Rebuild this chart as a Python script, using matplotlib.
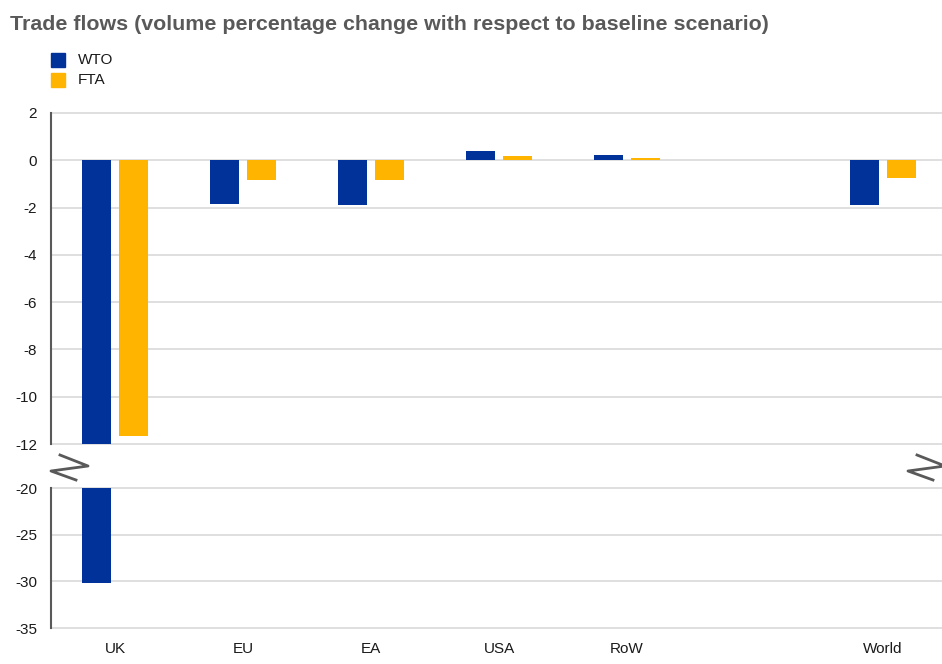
import numpy as np
import matplotlib.pyplot as plt
from matplotlib.lines import Line2D
from matplotlib.patches import Rectangle

plt.rcParams['font.family'] = ['Liberation Sans', 'DejaVu Sans']
plt.rcParams['axes.unicode_minus'] = False

# data
categories = ["UK", "EU", "EA", "USA", "RoW", "World"]
positions = [0, 1, 2, 3, 4, 6]
wto = [-30.2, -1.83, -1.9, 0.4, 0.22, -1.9]
fta = [-11.65, -0.82, -0.85, 0.17, 0.08, -0.75]
top_ticks = [2, 0, -2, -4, -6, -8, -10, -12]
bottom_ticks = [-20, -25, -30, -35]

blue = "#003299"
yellow = "#ffb400"
grid_c = "#d9d9d9"
spine_c = "#595959"

fig = plt.figure(figsize=(9.42, 6.64), dpi=100)
ax_top = fig.add_axes([51/942, 1-444/664, 1-51/942, (444-113)/664])
ax_bot = fig.add_axes([51/942, 1-628/664, 1-51/942, (628-488)/664])

w = 0.227
off = 0.145
x = np.array(positions)
for ax, ticks in ((ax_top, top_ticks), (ax_bot, bottom_ticks)):
    ax.bar(x - off, wto, width=w, color=blue, zorder=3)
    ax.bar(x + off, fta, width=w, color=yellow, zorder=3)
    ax.set_xlim(-0.5, 6.46)
    ax.set_ylim(min(ticks), max(ticks))
    ax.set_yticks(ticks)
    for s in ("top", "right", "bottom"):
        ax.spines[s].set_visible(False)
    ax.spines["left"].set_color(spine_c)
    ax.spines["left"].set_linewidth(1.5)
    ax.spines["left"].set_zorder(4)
    for t in ticks:
        ax.axhline(t, color=grid_c, linewidth=1.2, zorder=1, clip_on=False)
    ax.tick_params(axis="y", length=0, labelsize=11, labelcolor="#1a1a1a", pad=10)
    ax.tick_params(axis="x", length=0)

ax_top.set_xticks([])
ax_bot.set_xticks(positions)
ax_bot.set_xticklabels(categories, fontsize=11, color="#1a1a1a")
ax_bot.tick_params(axis="x", pad=10)

# break marks (figure pixels)
def fig_line(pts):
    xs = [p[0] / 942 for p in pts]
    ys = [1 - p[1] / 664 for p in pts]
    fig.add_artist(Line2D(xs, ys, color=spine_c, linewidth=2))

fig_line([(60, 455), (88, 466), (51, 471), (76, 480)])
fig_line([(917, 455), (945, 466), (908, 471), (933, 480)])

# title
fig.text(10/942, 1-25/664, "Trade flows (volume percentage change with respect to baseline scenario)",
         fontsize=15.4, fontweight="bold", color="#595959", va="center", ha="left")

# legend
for i, (lab, col) in enumerate([("WTO", blue), ("FTA", yellow)]):
    yc = 60 + i * 20
    fig.add_artist(Rectangle((51/942, 1-(yc+7)/664), 14/942, 14/664,
                             transform=fig.transFigure, color=col))
    fig.text(78/942, 1-yc/664, lab, fontsize=11, color="#1a1a1a", va="center", ha="left")

fig.savefig("out.png", dpi=100)
